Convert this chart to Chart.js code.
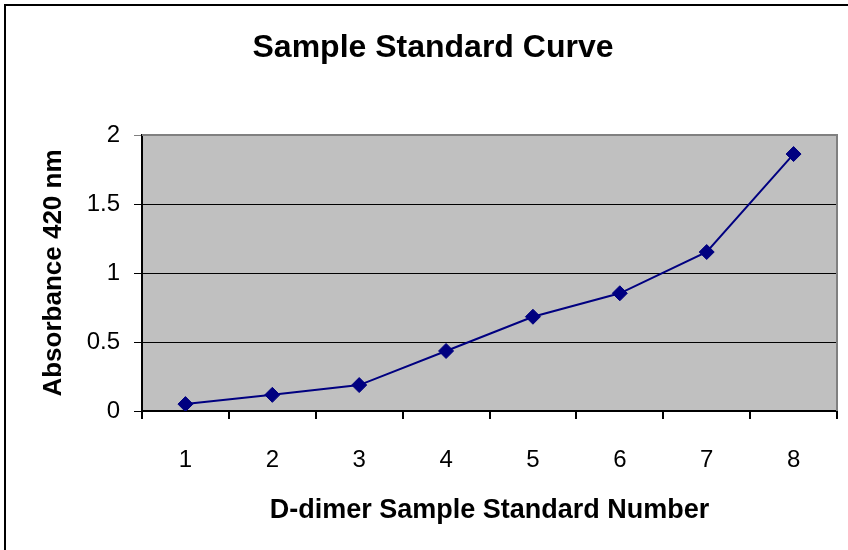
<!DOCTYPE html>
<html>
<head>
<meta charset="utf-8">
<script src="https://cdn.jsdelivr.net/npm/chart.js@4/dist/chart.umd.min.js"></script>
<style>
  html, body { margin: 0; padding: 0; background: #fff; }
  #wrap { width: 848px; height: 550px; position: relative; }
</style>
</head>
<body>
<div id="wrap"><canvas id="curveChart" width="848" height="550"></canvas></div>
<script>
// standard numbers and measured absorbance
const standardNumbers = ["1", "2", "3", "4", "5", "6", "7", "8"];
const absorbance = [0.05, 0.117, 0.188, 0.435, 0.683, 0.853, 1.152, 1.862];
const yTicks = [0, 0.5, 1, 1.5, 2];

const FONT = "'Liberation Sans', Arial, sans-serif";

// gray plot area, gray top/right border, outer frame
const plotBackground = {
  id: "plotBackground",
  beforeDraw(chart) {
    const { ctx, chartArea: a } = chart;
    ctx.save();
    ctx.fillStyle = "#fff";
    ctx.fillRect(0, 0, chart.width, chart.height);
    ctx.fillStyle = "#c0c0c0";
    ctx.fillRect(a.left, a.top, a.right - a.left, a.bottom - a.top);
    ctx.restore();
  },
  beforeDatasetsDraw(chart) {
    const { ctx, chartArea: a } = chart;
    ctx.save();
    ctx.strokeStyle = "#808080";
    ctx.lineWidth = 2;
    ctx.beginPath();
    ctx.moveTo(a.left, a.top);
    ctx.lineTo(a.right, a.top);
    ctx.lineTo(a.right, a.bottom);
    ctx.stroke();
    ctx.restore();
  },
  afterDraw(chart) {
    const ctx = chart.ctx;
    ctx.save();
    ctx.strokeStyle = "#000";
    ctx.lineWidth = 2;
    ctx.beginPath();
    ctx.moveTo(5, chart.height);
    ctx.lineTo(5, 5);
    ctx.lineTo(chart.width, 5);
    ctx.stroke();
    ctx.restore();
  }
};

const ctx = document.getElementById("curveChart").getContext("2d");
new Chart(ctx, {
  type: "line",
  data: {
    labels: standardNumbers,
    datasets: [{
      label: "Absorbance",
      data: absorbance,
      borderColor: "#000080",
      backgroundColor: "#000080",
      borderWidth: 2,
      tension: 0,
      pointStyle: "rectRot",
      pointRadius: 7.5,
      pointBorderWidth: 1,
      pointBackgroundColor: "#000080",
      pointBorderColor: "#000080"
    }]
  },
  options: {
    responsive: false,
    animation: false,
    devicePixelRatio: 1,
    // left padding keeps the title centred where the original had it
    layout: { padding: { left: 29, right: 11, top: 0, bottom: 0 } },
    plugins: {
      legend: { display: false },
      tooltip: { enabled: false },
      title: {
        display: true,
        text: "Sample Standard Curve",
        color: "#000",
        font: { family: FONT, size: 32, weight: "bold" },
        padding: { top: 29, bottom: 67.6 }
      }
    },
    scales: {
      x: {
        type: "category",
        offset: true,
        afterFit: s => { s.height = 139; },
        grid: {
          offset: true,
          drawOnChartArea: false,
          drawTicks: true,
          tickLength: 8,
          color: "#000",
          lineWidth: 2
        },
        border: { color: "#000", width: 2 },
        ticks: {
          color: "#000",
          padding: 27,
          font: { family: FONT, size: 24 }
        },
        title: {
          display: true,
          text: "D-dimer Sample Standard Number",
          color: "#000",
          font: { family: FONT, size: 27, weight: "bold" },
          padding: { top: 0, bottom: 23 }
        }
      },
      y: {
        min: 0,
        max: 2,
        afterFit: s => { s.width = 113; },
        afterBuildTicks: s => { s.ticks = yTicks.map(v => ({ value: v })); },
        grid: {
          drawTicks: true,
          tickLength: 8,
          color: c => (c.tick && c.tick.value === 2) ? "#808080" : "#000",
          lineWidth: 1
        },
        border: { color: "#000", width: 2 },
        ticks: {
          color: "#000",
          padding: 14,
          font: { family: FONT, size: 24 },
          callback: v => String(v)
        },
        title: {
          display: true,
          text: "Absorbance 420 nm",
          color: "#000",
          font: { family: FONT, size: 26, weight: "bold" },
          padding: { top: 9, bottom: 0 }
        }
      }
    }
  },
  plugins: [plotBackground]
});
</script>
</body>
</html>
